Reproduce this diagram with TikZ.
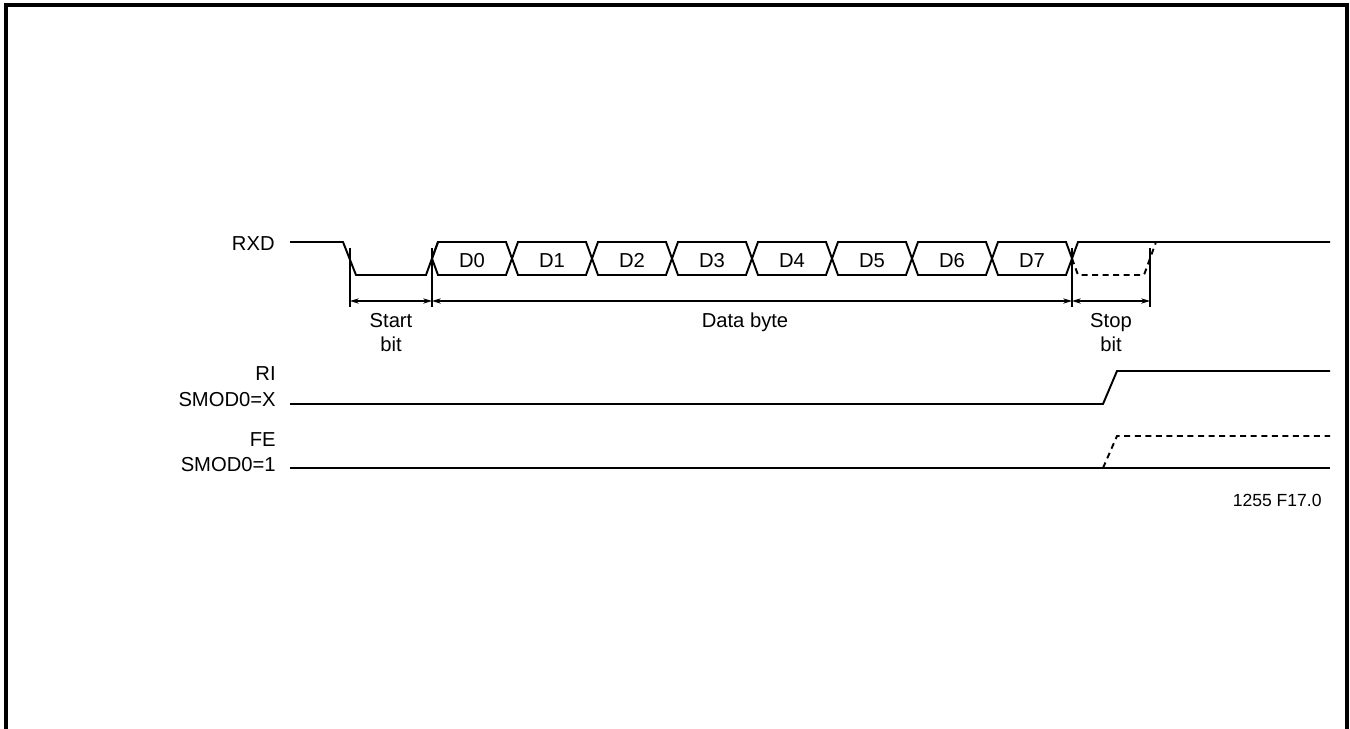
\documentclass[tikz,border=0pt]{standalone}
\usepackage{fontspec}
\setmainfont{Liberation Sans}
\usetikzlibrary{arrows.meta, positioning}

\begin{document}
\begin{tikzpicture}[x=0.02cm, y=-0.02cm,
    sig/.style={line width=1.1pt, line join=miter},
    sigdash/.style={line width=1.1pt, dash pattern=on 3.4pt off 2.6pt},
    tickline/.style={line width=1pt},
    dimline/.style={line width=0.8pt, {Stealth[length=5pt,width=3pt]}-{Stealth[length=5pt,width=3pt]}},
    lbl/.style={font=\fontsize{11.5}{13.8}\selectfont, inner sep=0pt}]
    \useasboundingbox (0,0) rectangle (1350,729);
    % Rahmen
    \draw[line width=2pt] (6,729) -- (6,5) -- (1347,5) -- (1347,729);

    % RXD: Ruhepegel und Startbit
    \node[lbl, anchor=base east] (rxd) at (275,251) {RXD};
    \draw[sig] (290,242) -- (343,242) -- (356,275) -- (426,275) -- (438,242);
    % 8 Datenbits
    \foreach \i in {0,...,7} {
        \draw[sig] (432+\i*80,258.5) -- (438+\i*80,242) -- (506+\i*80,242)
            -- (512+\i*80,258.5) -- (506+\i*80,275) -- (438+\i*80,275) -- cycle;
        \node[lbl, anchor=base] (d\i) at (472+\i*80,268) {D\i};
    }
    % Stoppbit
    \draw[sig] (1072,258.5) -- (1078,242) -- (1330,242);
    \draw[sigdash] (1072,258.5) -- (1078,275) -- (1144,275) -- (1156,242);

    % Markierungen und Bemassung
    \foreach \x/\n in {350/ms, 432/md, 1072/mp, 1150/me} {
        \coordinate (\n) at (\x,301);
        \draw[tickline] (\x,248) -- (\x,307);
    }
    \draw[dimline] (ms) -- (md);
    \draw[dimline] (md) -- (mp);
    \draw[dimline] (mp) -- (me);
    \node[lbl, anchor=base] (start) at (391,328) {Start};
    \node[lbl, anchor=base] (startbit) at (391,352) {bit};
    \node[lbl, anchor=base] (databyte) at (745,328) {Data byte};
    \node[lbl, anchor=base] (stop) at (1111,328) {Stop};
    \node[lbl, anchor=base] (stopbit) at (1111,352) {bit};

    % RI
    \node[lbl, anchor=base east] (ri) at (276,381) {RI};
    \node[lbl, anchor=base east] (rismod) at (276,407) {SMOD0=X};
    \draw[sig] (290,404) -- (1103,404) -- (1117,371) -- (1330,371);

    % FE
    \node[lbl, anchor=base east] (fe) at (276,447) {FE};
    \node[lbl, anchor=base east] (fesmod) at (276,472) {SMOD0=1};
    \draw[sig] (290,468) -- (1330,468);
    \draw[sigdash] (1103,468) -- (1117,436) -- (1330,436);

    \node[lbl, font=\fontsize{10}{12}\selectfont, anchor=base east] (fig) at (1322,507) {1255 F17.0};
\end{tikzpicture}
\end{document}
